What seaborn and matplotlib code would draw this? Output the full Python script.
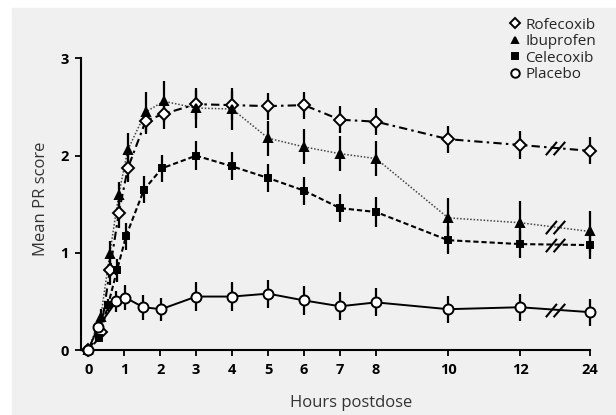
import numpy as np
import pandas as pd
import matplotlib
matplotlib.use("Agg")
import matplotlib.pyplot as plt
import seaborn as sns
from matplotlib.path import Path
from matplotlib.lines import Line2D
from matplotlib.patches import Rectangle

# Values (mean PR score and error bar half-length)
hours = [0, 0.25, 0.5, 0.75, 1, 1.5, 2, 3, 4, 5, 6, 7, 8, 10, 12, 24]
placebo_hours = [0, 0.25, 0.75, 1, 1.5, 2, 3, 4, 5, 6, 7, 8, 10, 12, 24]

rofecoxib = [0, 0.19, 0.82, 1.41, 1.87, 2.36, 2.43, 2.53, 2.52, 2.51, 2.52, 2.37, 2.35, 2.17, 2.11, 2.05]
rofecoxib_err = [0, 0.05, 0.15, 0.15, 0.14, 0.14, 0.16, 0.15, 0.15, 0.14, 0.14, 0.14, 0.14, 0.14, 0.14, 0.14]

ibuprofen = [0, 0.34, 0.99, 1.60, 2.06, 2.45, 2.56, 2.49, 2.48, 2.18, 2.09, 2.02, 1.97, 1.36, 1.31, 1.22]
ibuprofen_err = [0, 0.08, 0.13, 0.13, 0.17, 0.21, 0.21, 0.21, 0.22, 0.18, 0.18, 0.18, 0.18, 0.20, 0.22, 0.21]

celecoxib = [0, 0.12, 0.46, 0.82, 1.17, 1.65, 1.87, 2.00, 1.89, 1.77, 1.64, 1.46, 1.42, 1.13, 1.09, 1.08]
celecoxib_err = [0, 0.04, 0.06, 0.12, 0.14, 0.14, 0.14, 0.15, 0.145, 0.145, 0.145, 0.145, 0.15, 0.145, 0.145, 0.14]

placebo = [0, 0.24, 0.50, 0.54, 0.44, 0.42, 0.55, 0.55, 0.58, 0.51, 0.45, 0.49, 0.42, 0.44, 0.39]
placebo_err = [0, 0.05, 0.11, 0.13, 0.13, 0.12, 0.15, 0.145, 0.145, 0.145, 0.145, 0.145, 0.14, 0.14, 0.14]

tick_hours = [0, 1, 2, 3, 4, 5, 6, 7, 8, 10, 12, 24]


def hour_pos(h):
    # axis is broken between 12 and 24 h
    return h if h <= 12 else 13.93


BREAK_MID = (12 + hour_pos(24)) / 2

sns.set_theme(style="ticks")
plt.rcParams["font.family"] = ["Open Sans", "DejaVu Sans"]

series = [
    dict(name="Rofecoxib", t=hours, y=rofecoxib, e=rofecoxib_err, dodge=0.10,
         ls=(0, (4, 2, 1.2, 2)), lw=1.5, lc="black",
         marker="D", ms=6, mfc="white"),
    dict(name="Ibuprofen", t=hours, y=ibuprofen, e=ibuprofen_err, dodge=0.10,
         ls=(0, (1, 1.2)), lw=1.1, lc="#444444",
         marker="^", ms=5.5, mfc="black"),
    dict(name="Celecoxib", t=hours, y=celecoxib, e=celecoxib_err, dodge=0.05,
         ls=(0, (2.5, 1.4)), lw=1.5, lc="black",
         marker="s", ms=5, mfc="black"),
    dict(name="Placebo", t=placebo_hours, y=placebo, e=placebo_err, dodge=0.03,
         ls="-", lw=1.4, lc="black",
         marker="o", ms=7.2, mfc="white"),
]

# "//" break symbol
brk_path = Path([(-9.6, -6.7), (1.4, 6.6), (-1.9, -6.7), (9.7, 6.6)],
                [Path.MOVETO, Path.LINETO, Path.MOVETO, Path.LINETO])

fig = plt.figure(figsize=(6.16, 4.15), dpi=100, facecolor="white")
fig.patches.append(Rectangle((12 / 616, 0), 1, (415 - 8) / 415,
                             transform=fig.transFigure, color="#f0f0f0", zorder=-10))
ax = fig.add_axes([81 / 616, 65 / 415, 508.5 / 616, 291.5 / 415])
ax.patch.set_alpha(0)

for s in series:
    pos = [hour_pos(t) + (s["dodge"] if 0 < t < 3 else 0) for t in s["t"]]
    df = pd.DataFrame({"pos": pos, "score": s["y"], "err": s["e"]})
    sns.lineplot(data=df, x="pos", y="score", ax=ax, color=s["lc"], linestyle=s["ls"],
                 lw=s["lw"], sort=False, estimator=None, errorbar=None, zorder=2, clip_on=False)
    ax.errorbar(df["pos"], df["score"], yerr=df["err"], fmt="none", ecolor="black",
                elinewidth=1.6, capsize=0, zorder=3, clip_on=False)
    ax.plot(df["pos"], df["score"], linestyle="none", marker=s["marker"], ms=s["ms"],
            mfc=s["mfc"], mec="black", mew=1.4, zorder=4, clip_on=False)
    yb = np.interp(BREAK_MID, [12, hour_pos(24)], [s["y"][-2], s["y"][-1]])
    ax.plot([BREAK_MID], [yb], linestyle="none", marker=brk_path, ms=14, mfc="none",
            mec="black", mew=1.5, zorder=4)

ax.set_xlim(-0.2, hour_pos(24))
ax.set_ylim(0, 3)
ax.set_xticks([hour_pos(h) for h in tick_hours])
ax.set_xticklabels([str(h) for h in tick_hours])
ax.set_yticks([0, 1, 2, 3])
ax.set_yticklabels(["0", "1", "2", "3"])
ax.tick_params(axis="both", direction="out", length=4, width=1.3, colors="black",
               labelsize=10.5, pad=5)
for lab in ax.get_xticklabels() + ax.get_yticklabels():
    lab.set_fontweight("bold")

sns.despine(ax=ax)
for sp in ["left", "bottom"]:
    ax.spines[sp].set_linewidth(1.5)
    ax.spines[sp].set_color("black")

ax.set_xlabel("Hours postdose", fontsize=12, color="#333333")
ax.set_ylabel("Mean PR score", fontsize=12, color="#333333")
ax.xaxis.set_label_coords(0.531, -0.155)
ax.yaxis.set_label_coords(-0.062, 0.518)

handles = [Line2D([], [], linestyle="none", marker=s["marker"], ms=s["ms"] * 0.85,
                  mfc=s["mfc"], mec="black", mew=1.4, label=s["name"]) for s in series]
fig.legend(handles=handles, loc="upper right", bbox_to_anchor=(604 / 616, 405 / 415),
           frameon=False, fontsize=11, handlelength=0.8, handletextpad=0.3,
           labelspacing=0.1, borderpad=0)

fig.savefig("out.png", dpi=100, facecolor=fig.get_facecolor())
